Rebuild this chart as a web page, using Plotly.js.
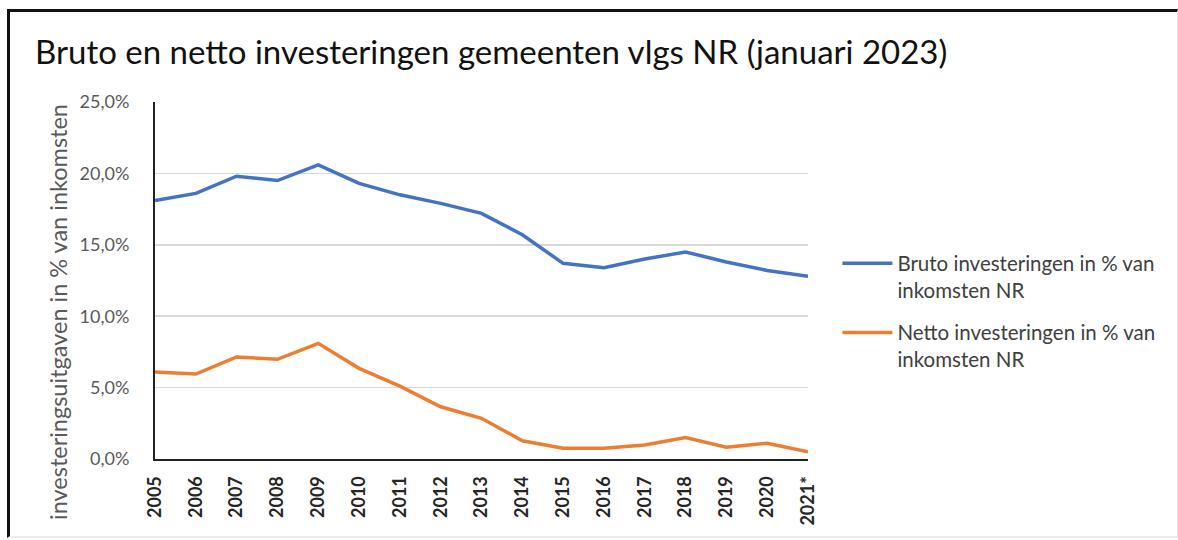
<!DOCTYPE html>
<html>
<head>
<meta charset="utf-8">
<script src="https://cdn.plot.ly/plotly-3.0.1.min.js"></script>
<style>
html,body{margin:0;padding:0;background:#fff;}
#wrap{position:relative;width:1178px;height:540px;overflow:hidden;}
#chart{position:absolute;left:0;top:0;width:1178px;height:540px;}
#frame{position:absolute;left:7px;top:9px;width:1167px;height:524px;border-top:3px solid #111;border-left:3px solid #111;border-right:1px solid #e4e4e4;border-bottom:2px solid #ececec;pointer-events:none;}
</style>
</head>
<body>
<div id="wrap">
<div id="chart"></div>
<div id="frame"></div>
</div>
<script>
const years = ["2005","2006","2007","2008","2009","2010","2011","2012","2013","2014","2015","2016","2017","2018","2019","2020","2021*"];
const bruto = [18.1,18.6,19.8,19.5,20.6,19.3,18.5,17.9,17.2,15.7,13.7,13.4,14.0,14.5,13.8,13.2,12.8];
const netto = [6.1,5.95,7.15,6.98,8.1,6.35,5.1,3.66,2.85,1.28,0.75,0.75,0.98,1.5,0.82,1.1,0.51];
const brutoName = "Bruto investeringen in % van<br>inkomsten NR";
const nettoName = "Netto investeringen in % van<br>inkomsten NR";
const chartTitle = "Bruto en netto investeringen gemeenten vlgs NR (januari 2023)";
const yTitle = "investeringsuitgaven in % van inkomsten";

const traces = [
  {x: years, y: bruto, name: brutoName, legendgroup: "bruto", type: "scatter", mode: "lines",
   line: {color: "#4472C4", width: 3.5}},
  {x: years, y: netto, name: nettoName, legendgroup: "netto", type: "scatter", mode: "lines",
   line: {color: "#ED7D31", width: 3.5}}
];

const layout = {
  width: 1178, height: 540,
  margin: {l: 155, r: 370, t: 102, b: 81, pad: 0},
  paper_bgcolor: "#fff", plot_bgcolor: "#fff",
  separators: ",.",
  font: {family: "Lato, 'Open Sans', sans-serif", color: "#595959"},
  title: {text: chartTitle, x: 35/1178, xref: "container", xanchor: "left", y: 0.903, yref: "container", yanchor: "middle",
          pad: {l: 0}, font: {size: 33, color: "#111", family: "Lato, sans-serif"}},
  xaxis: {type: "category", range: [0, 16], tickangle: -90, showgrid: false,
          showline: true, linecolor: "#222", linewidth: 2, ticks: "", zeroline: false,
          ticklabelstandoff: 8,
          tickfont: {size: 18, color: "#262626", family: "Lato, sans-serif", weight: "bold"}, automargin: false},
  yaxis: {range: [0, 25], dtick: 5, tickformat: ".1f", ticksuffix: "%",
          showgrid: true, gridcolor: "#d9d9d9", gridwidth: 1.5,
          showline: true, linecolor: "#222", linewidth: 2, ticks: "", zeroline: false,
          tickfont: {size: 18, color: "#595959"}, ticklabelstandoff: 20, automargin: false},
  annotations: [
    {text: yTitle, textangle: -90, xref: "paper", yref: "paper",
     x: (58 - 155) / 653, y: (459 - 312) / 357, xanchor: "center", yanchor: "middle",
     showarrow: false, font: {size: 23.5, color: "#595959"}}
  ],
  showlegend: true,
  legend: {x: 1.045, xanchor: "left", y: 0.604, yanchor: "top", valign: "top",
           traceorder: "grouped",
           font: {size: 20.5, color: "#404040"}, itemwidth: 50, tracegroupgap: 13,
           bgcolor: "rgba(0,0,0,0)"}
};

Plotly.newPlot("chart", traces, layout, {displayModeBar: false, staticPlot: true});
</script>
</body>
</html>
